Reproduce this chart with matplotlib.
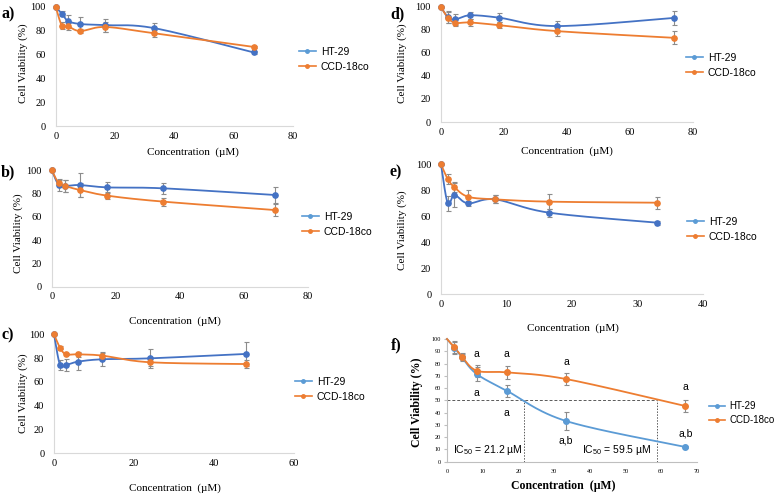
import numpy as np
import matplotlib
matplotlib.use('Agg')
import matplotlib.pyplot as plt
from matplotlib.lines import Line2D

W, H = 777, 494
BLUE = '#4472C4'
BLUE_F = '#5B9BD5'
ORANGE = '#ED7D31'
GRAY = '#8C8C8C'
SERIF = 'Liberation Serif'
SANS = 'Liberation Sans'

plt.rcParams['mathtext.fontset'] = 'custom'
plt.rcParams['mathtext.rm'] = SANS
plt.rcParams['mathtext.it'] = SANS + ':italic'

series_names = ['HT-29', 'CCD-18co']

# panel a
a_x = [0, 2.1, 4.2, 8.3, 16.7, 33.3, 66.7]
a_ht = [100, 94, 88, 85.5, 84.5, 82, 61.7]
a_ht_err = [0, 2, 5, 5.5, 5.5, 4, 1]
a_ccd = [100, 84, 83.5, 79.6, 83, 77.7, 66.3]
a_ccd_err = [0, 3, 3, 2, 4, 3, 1]

# panel b
b_x = [0, 2.2, 4.3, 8.7, 17.4, 34.8, 69.6]
b_ht = [100, 87, 86.3, 87.1, 85.1, 84.3, 78.6]
b_ht_err = [0, 5, 5, 10, 5, 4.5, 7]
b_ccd = [100, 88.6, 86.3, 82.9, 78, 72.9, 65.7]
b_ccd_err = [0, 3, 5, 6, 3, 3.5, 5]

# panel c
c_x = [0, 1.5, 3, 6, 12, 24, 48]
c_ht = [100, 74.2, 74.2, 77, 79, 79.8, 83.5]
c_ht_err = [0, 4.5, 5, 7, 6, 8, 10]
c_ccd = [100, 88.8, 83.2, 83.2, 82.1, 76.5, 75]
c_ccd_err = [0, 1, 1, 2, 2, 3.5, 3]

# panel d
d_x = [0, 2.3, 4.6, 9.25, 18.5, 37, 74]
d_ht = [100, 91, 89, 92.5, 90.5, 83.2, 90.3]
d_ht_err = [0, 5, 5, 3, 4, 4, 6]
d_ccd = [100, 90.5, 86, 86.3, 84, 78.8, 73]
d_ccd_err = [0, 5, 3, 3, 2.5, 4.5, 5.5]

# panel e
e_x = [0, 1.03, 2.06, 4.13, 8.25, 16.5, 33]
e_ht = [100, 69.9, 76.3, 69.9, 73, 62.7, 55]
e_ht_err = [0, 6, 9, 2, 3, 3, 1.5]
e_ccd = [100, 88.7, 82.3, 75, 73, 71.2, 70.4]
e_ccd_err = [0, 4, 4, 5, 3, 6, 4.5]

# panel f
f_x = [0, 2.1, 4.2, 8.3, 16.7, 33.3, 66.7]
f_ht = [100, 92.9, 85, 71.5, 57.9, 33.2, 12]
f_ht_err = [0, 5, 3, 6, 5, 7, 1]
f_ccd = [100, 93.2, 85.6, 74.2, 72.8, 67.4, 45.4]
f_ccd_err = [0, 5, 3, 5, 5.5, 4.5, 5]
f_ic50_pos = [21.6, 58.7]
f_ic50_text = ['IC$_{50}$ = 21.2 µM', 'IC$_{50}$ = 59.5 µM']
f_ic50_text_x = [1.7, 37.9]
f_letters_ccd = ['a', 'a', 'a', 'a']
f_letters_ccd_pos = [(8.3, 87.5), (16.7, 87.5), (33.3, 81), (66.7, 61)]
f_letters_ht = ['a', 'a', 'a,b', 'a,b']
f_letters_ht_pos = [(8.3, 56), (16.7, 40), (33.3, 17.4), (66.7, 23)]


def px_rect(l, t, r, b):
    return [l / W, 1 - b / H, (r - l) / W, (b - t) / H]


def smooth(x, y, sx, sy, n=30):
    # Excel-like smoothed line (bezier through the points), drawn in pixel space
    P = np.column_stack([np.asarray(x, float) * sx, np.asarray(y, float) * sy])
    out = []
    t = np.linspace(0, 1, n)[:, None]
    for i in range(len(P) - 1):
        p0 = P[i - 1] if i > 0 else P[i]
        p1, p2 = P[i], P[i + 1]
        p3 = P[i + 2] if i + 2 < len(P) else P[i + 1]
        c1 = p1 + (p2 - p0) / 6
        c2 = p2 - (p3 - p1) / 6
        seg = (1 - t) ** 3 * p1 + 3 * (1 - t) ** 2 * t * c1 + 3 * (1 - t) * t ** 2 * c2 + t ** 3 * p2
        out.append(seg if i == 0 else seg[1:])
    pts = np.vstack(out)
    return pts[:, 0] / sx, pts[:, 1] / sy


fig = plt.figure(figsize=(W / 100, H / 100), dpi=100)


def panel(rect, xmax, xstep, x, ht, ht_err, ccd, ccd_err, letter, letter_xy,
          xlab_xy, ylab_xy, leg_xy, small=False):
    ax = fig.add_axes(px_rect(*rect))
    axw = rect[2] - rect[0]
    axh = rect[3] - rect[1]
    sx, sy = axw / xmax, axh / 100.0
    blue = BLUE_F if small else BLUE
    for yv, err, col in [(ht, ht_err, blue), (ccd, ccd_err, ORANGE)]:
        lx, ly = smooth(x, yv, sx, sy)
        ax.plot(lx, ly, color=col, lw=1.3, zorder=3, clip_on=False)
        ax.errorbar(x[1:], yv[1:], yerr=err[1:], fmt='none', ecolor=GRAY,
                    elinewidth=0.8, capsize=1.8, capthick=0.8, zorder=2)
        if small:
            ax.plot(x[1:], yv[1:], 'o', color=col, ms=4, zorder=4)
        else:
            ax.plot(x, yv, 'o', color=col, ms=3.8, zorder=4, clip_on=False)
    ax.set_xlim(0, xmax)
    ax.set_ylim(0, 100)
    ax.set_xticks(np.arange(0, xmax + 0.1, xstep))
    for s in ['top', 'right']:
        ax.spines[s].set_visible(False)
    for s in ['left', 'bottom']:
        ax.spines[s].set_color('#BFBFBF' if small else '#D9D9D9')
        ax.spines[s].set_linewidth(0.8)
    if small:
        ax.set_yticks(np.arange(0, 101, 10))
        ax.tick_params(axis='y', length=2.5, color='#BFBFBF', pad=2, labelsize=4.5)
        ax.tick_params(axis='x', length=0, pad=5, labelsize=4.5)
        lab_size = 8.5
        lab_weight = 'bold'
        leg_size = 7
    else:
        ax.set_yticks(np.arange(0, 101, 20))
        ax.tick_params(axis='y', length=0, pad=7, labelsize=7.5)
        ax.tick_params(axis='x', length=0, pad=4, labelsize=7.5)
        lab_size = 8
        lab_weight = 'normal'
        leg_size = 7.5
    for lb in ax.get_xticklabels() + ax.get_yticklabels():
        lb.set_fontfamily(SERIF)
    ax.set_xlabel('Concentration  (µM)', fontfamily=SERIF, fontsize=lab_size,
                  fontweight=lab_weight)
    ax.xaxis.set_label_coords(xlab_xy[0] / W, 1 - xlab_xy[1] / H, transform=fig.transFigure)
    ax.set_ylabel('Cell Viability (%)', fontfamily=SERIF, fontsize=lab_size,
                  fontweight=lab_weight)
    ax.yaxis.set_label_coords(ylab_xy[0] / W, 1 - ylab_xy[1] / H, transform=fig.transFigure)
    fig.text(letter_xy[0] / W, 1 - letter_xy[1] / H, letter, fontfamily=SERIF,
             fontsize=11.5, fontweight='bold', va='center', ha='left')
    handles = [Line2D([], [], color=BLUE_F, marker='o', ms=2.5, lw=1.2),
               Line2D([], [], color=ORANGE, marker='o', ms=2.5, lw=1.2)]
    ax.legend(handles, series_names, loc='upper left',
              bbox_to_anchor=(leg_xy[0] / W, 1 - leg_xy[1] / H),
              bbox_transform=fig.transFigure, frameon=False, borderpad=0,
              borderaxespad=0, handlelength=1.6, handletextpad=0.5,
              labelspacing=0.45, prop={'family': SANS, 'size': leg_size})
    return ax


panel((55.7, 6.7, 293, 126), 80, 20, a_x, a_ht, a_ht_err, a_ccd, a_ccd_err,
      'a)', (1, 14), (193, 147), (28, 63), (299, 47))
panel((51.7, 170, 308, 286.7), 80, 20, b_x, b_ht, b_ht_err, b_ccd, b_ccd_err,
      'b)', (1, 172), (175, 316), (23, 233), (302, 212))
panel((54, 334.3, 294, 453.3), 60, 20, c_x, c_ht, c_ht_err, c_ccd, c_ccd_err,
      'c)', (1, 335), (175, 483), (28, 393), (295, 377))
panel((440.7, 6.7, 693, 122), 80, 20, d_x, d_ht, d_ht_err, d_ccd, d_ccd_err,
      'd)', (390, 14), (567, 146), (407, 63), (686, 53))
panel((441, 164.3, 703, 294), 40, 10, e_x, e_ht, e_ht_err, e_ccd, e_ccd_err,
      'e)', (390, 172), (573, 323), (407, 230), (687, 217))
axf = panel((447, 339, 697, 461.7), 70, 10, f_x, f_ht, f_ht_err, f_ccd, f_ccd_err,
            'f)', (391, 345), (563, 480), (423, 402), (709, 401), small=True)

# IC50 guide lines and labels
axf.plot([0, max(f_ic50_pos)], [50, 50], ls=(0, (3, 2)), color='#595959', lw=0.7, zorder=1)
for xv in f_ic50_pos:
    axf.plot([xv, xv], [0, 50], ls=(0, (1.5, 1.5)), color='#595959', lw=0.7, zorder=1)
for tx, txt in zip(f_ic50_text_x, f_ic50_text):
    axf.text(tx, 9.5, txt, fontfamily=SANS, fontsize=7.5, va='center', ha='left')
for lab, (tx, ty) in zip(f_letters_ccd + f_letters_ht, f_letters_ccd_pos + f_letters_ht_pos):
    axf.text(tx, ty, lab, fontfamily=SANS, fontsize=7.5, va='center', ha='center')

fig.savefig('out.png', dpi=100)
